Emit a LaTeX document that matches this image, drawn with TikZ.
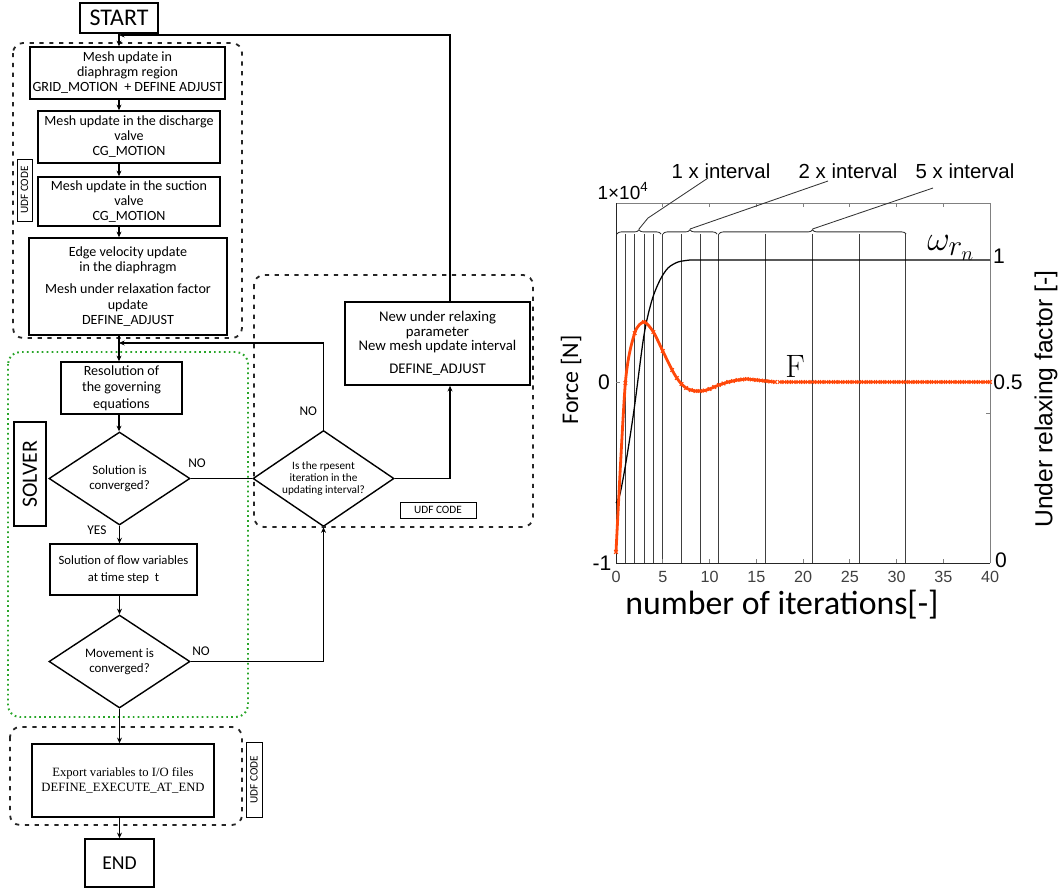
\documentclass[tikz,border=0pt]{standalone}
\usepackage{fontspec}
\newfontfamily\calibri{Carlito}
\newfontfamily\arialfont{Liberation Sans}
\newfontfamily\timesfont{Liberation Serif}
\usetikzlibrary{arrows.meta,positioning,calc,shapes.geometric,decorations.pathreplacing}
\definecolor{forcered}{RGB}{255,72,10}
\definecolor{solvergreen}{RGB}{40,165,40}

\begin{document}
\begin{tikzpicture}[x=0.025cm, y=-0.025cm,
    box/.style={draw, line width=1.1pt, align=center, inner sep=1pt,
                font=\calibri\fontsize{10}{10.7}\selectfont},
    dia/.style={draw, diamond, aspect=1.5, line width=1pt, align=center, inner sep=0pt,
                minimum width=3.525cm, minimum height=2.325cm,
                font=\calibri\fontsize{9.2}{10.7}\selectfont},
    arr/.style={-{Stealth[length=4pt,width=3.5pt]}, line width=0.9pt},
    link/.style={line width=0.9pt},
    udf/.style={draw=black!85, line width=1.3pt, dash pattern=on 3pt off 4pt, rounded corners=0.25cm},
    solvergrp/.style={draw=solvergreen, line width=1.4pt, dash pattern=on 1.2pt off 2.3pt, rounded corners=0.3cm},
    tag/.style={draw, line width=0.6pt, inner sep=1pt, font=\calibri\fontsize{8}{8}\selectfont},
    lbl/.style={font=\calibri\fontsize{9.5}{9.5}\selectfont},
    ticklbl/.style={font=\arialfont\fontsize{15}{15}\selectfont, inner sep=0pt},
    xticklbl/.style={font=\arialfont\fontsize{11.5}{11.5}\selectfont, black!75, inner sep=0pt},
    ilbl/.style={font=\arialfont\fontsize{14.5}{14.5}\selectfont, inner sep=0pt},
    vline/.style={black!75, line width=0.6pt},
    ibrace/.style={black!80, line width=0.6pt, decorate, decoration={brace, amplitude=3pt}},
    leader/.style={black!80, line width=0.6pt},
    force/.style={forcered, line width=2pt},
    omega/.style={black, line width=0.9pt}
  ]
  \useasboundingbox (0,0) rectangle (1062,888);

  % flow chart
  \node[box, minimum width=1.95cm, minimum height=0.75cm, font=\calibri\fontsize{17}{17}\selectfont] (start) at (119,18) {START};
  \node[box, minimum width=4.875cm, minimum height=1.3cm] (grid) at (127.5,73)
    {Mesh update in\\ diaphragm region\\ GRID\_MOTION\ \ + DEFINE ADJUST};
  \node[box, minimum width=4.55cm, minimum height=1.3cm] (disch) at (129,137)
    {Mesh update in the discharge\\ valve\\ CG\_MOTION};
  \node[box, minimum width=4.55cm, minimum height=1.225cm] (suct) at (129,201.5)
    {Mesh update in the suction\\ valve\\ CG\_MOTION};
  \node[box, minimum width=4.95cm, minimum height=2.425cm] (edge) at (128,286.5)
    {Edge velocity update\\ in the diaphragm\\[5pt] Mesh under relaxation factor\\ update\\ DEFINE\_ADJUST};
  \node[box, minimum width=3.025cm, minimum height=1.3cm, font=\calibri\fontsize{10}{11.9}\selectfont] (resol) at (121.5,388)
    {Resolution of\\ the governing\\ equations};
  \node[dia] (conv) at (119.5,478.5) {Solution is\\ converged?};
  \node[box, line width=0.8pt, minimum width=3.675cm, minimum height=1.275cm, font=\calibri\fontsize{9}{11.9}\selectfont] (flow) at (123.5,569.5)
    {Solution of flow variables\\ at time step\ \ t};
  \node[dia] (move) at (119.5,661.5) {Movement is\\ converged?};
  \node[box, minimum width=4.55cm, minimum height=1.825cm, font=\timesfont\fontsize{9}{10.7}\selectfont] (export) at (123,780.5)
    {Export variables to I/O files\\ DEFINE\_EXECUTE\_AT\_END};
  \node[box, minimum width=1.725cm, minimum height=1.2cm, font=\calibri\fontsize{14}{14}\selectfont] (end) at (119.5,863) {END};

  \node[box, minimum width=4.625cm, minimum height=2.075cm, font=\calibri\fontsize{10.5}{10.4}\selectfont] (newpar) at (437.5,343.5)
    {New under relaxing\\ parameter\\ New mesh update interval\\[6pt] DEFINE\_ADJUST};
  \node[dia, minimum height=2.4cm, font=\calibri\fontsize{8}{8.6}\selectfont] (check) at (323.5,478.5)
    {Is the rpesent\\ iteration in the\\ updating interval?};

  \node[lbl] (no1) at (197,463) {NO};
  \node[lbl] (yes1) at (97,530) {YES};
  \node[lbl] (no2) at (201,651) {NO};
  \node[lbl, anchor=east] (no3) at (322,411) {NO};

  \node[tag, rotate=90, minimum width=1.55cm, minimum height=0.375cm] (tagA) at (24.5,190) {UDF CODE};
  \node[tag, minimum width=1.9cm, minimum height=0.4cm] (tagB) at (438,510) {UDF CODE};
  \node[tag, rotate=90, minimum width=1.875cm, minimum height=0.4cm] (tagC) at (254,779.5) {UDF CODE};
  \node[draw, line width=1.2pt, rotate=90, minimum width=2.6cm, minimum height=0.8cm,
        font=\calibri\fontsize{15.5}{15.5}\selectfont] (solver) at (30,474) {SOLVER};

  \draw[udf] (13,43) rectangle (242,338);
  \draw[udf] (254,275) rectangle (533,527);
  \draw[udf] (10,727) rectangle (242,825);
  \draw[solvergrp] (8,352) rectangle (248,717);

  \coordinate (turn) at (450,35);
  \coordinate (back) at (323.5,343);

  \draw[arr] (start) -- (start |- grid.north);
  \draw[arr] (grid.south -| start) -- (start |- disch.north);
  \draw[arr] (disch.south -| start) -- (start |- suct.north);
  \draw[arr] (suct.south -| start) -- (start |- edge.north);
  \draw[arr] (edge.south -| start) -- (start |- resol.north);
  \draw[arr] (resol.south -| start) -- (start |- conv.north);
  \draw[arr] (conv.south) -- (conv.south |- flow.north);
  \draw[arr] (flow.south -| move) -- (move.north);
  \draw[arr] (move.south) -- (move.south |- export.north);
  \draw[arr] (export.south -| end) -- (end);

  \draw[link] (conv) -- (check);
  \draw[arr] (check.east) -| (newpar.south -| turn);
  \draw[arr] (newpar.north -| turn) -- (turn) -- (start |- turn);
  \draw[arr] (check.north) -- (check.north |- back) -- (start |- back);
  \draw[arr] (move.east) -| (check.south);

  % plot
  \foreach \i in {1,2,3,4,5,7,9,11,16,21,26,31}
    \draw[vline] ({616+9.35*\i},563) -- ({616+9.35*\i},234);
  \draw[gray, line width=0.6pt] (616,203) -- (990,203) -- (990,563);
  \draw[black!85, line width=0.7pt] (616,203) -- (616,563) -- (990,563);
  \foreach \i in {5,10,...,35} {
    \draw[gray, line width=0.5pt] ({616+9.35*\i},563) -- ++(0,-4);
    \draw[gray, line width=0.5pt] ({616+9.35*\i},203) -- ++(0,4);
  }
  \draw[gray, line width=0.5pt] (616,382) -- ++(4,0);
  \draw[gray, line width=0.5pt] (990,382) -- ++(-4,0) (990,413) -- ++(-4,0);

  \foreach \i in {0,5,...,40}
    \node[xticklbl] (xt\i) at ({616+9.35*\i},577) {\i};
  \node[ticklbl] (yt0) at (604,382) {0};
  \node[ticklbl] (ytm) at (602,563) {-1};
  \node[ticklbl, font=\arialfont\fontsize{13.5}{13.5}\selectfont] (expo) at (623,191) {1×10\textsuperscript{4}};
  \node[ticklbl] (rt1) at (999,256) {1};
  \node[ticklbl] (rt5) at (1008,382) {0.5};
  \node[ticklbl] (rt0) at (1001,560) {0};

  \node[rotate=90, font=\calibri\fontsize{17}{17}\selectfont] (ylab) at (571,380) {Force [N]};
  \node[rotate=90, font=\arialfont\fontsize{17.5}{17.5}\selectfont] (rlab) at (1046,399) {Under relaxing factor [-]};
  \node[font=\calibri\fontsize{24}{24}\selectfont] (xlab) at (782,605) {number of iterations[-]};

  \draw[ibrace] (617,234) -- (661,234);
  \draw[ibrace] (663,234) -- (717,234);
  \draw[ibrace] (719,234) -- (906,234);
  \node[ilbl] (int1) at (721,171) {1 x interval};
  \node[ilbl] (int2) at (848,171) {2 x interval};
  \node[ilbl] (int5) at (965,171) {5 x interval};
  \coordinate (tip1) at (639,229);
  \coordinate (tip2) at (690,229);
  \coordinate (tip5) at (812.5,229);
  \draw[leader] (tip1) -- (648,218) -- (708,178);
  \draw[leader] (tip2) -- (828,181);
  \draw[leader] (tip5) -- (933,188);

  \draw[omega] plot[smooth] coordinates {(616,503) (620,494) (626,462) (634,410) (644,335)
    (652,300) (660,280) (668,268) (678,262) (690,260)} -- (990,260);

  \draw[force] plot[smooth, tension=0.45, mark=x, mark size=1.8pt, mark options={line width=0.8pt}]
    coordinates {(616,552) (625.35,383) (634.7,333) (644.05,322) (653.4,332) (662.75,351)
    (672.1,370) (676.8,378) (681.45,384) (686.1,388) (690.8,390) (695.5,391) (700.15,391)
    (704.8,390.5) (709.5,389) (714.2,387) (718.85,385) (723.5,383.5) (728.2,382) (732.9,381)
    (737.55,380) (742.2,379.5) (746.9,379) (751.6,379.5) (756.25,380) (760.9,380.5)
    (765.6,381) (770.3,381.5) (774.95,382)};
  \draw[force] plot[samples at={17.5,18,...,40}, mark=x, mark size=1.8pt, mark options={line width=0.8pt}]
    ({616+9.35*\x},382);

  \node[font=\fontsize{23}{23}\selectfont] (flab) at (795,366) {F};
  \node[font=\fontsize{28}{28}\selectfont] (wlab) at (951,248) {$\omega_{r_n}$};
\end{tikzpicture}
\end{document}
